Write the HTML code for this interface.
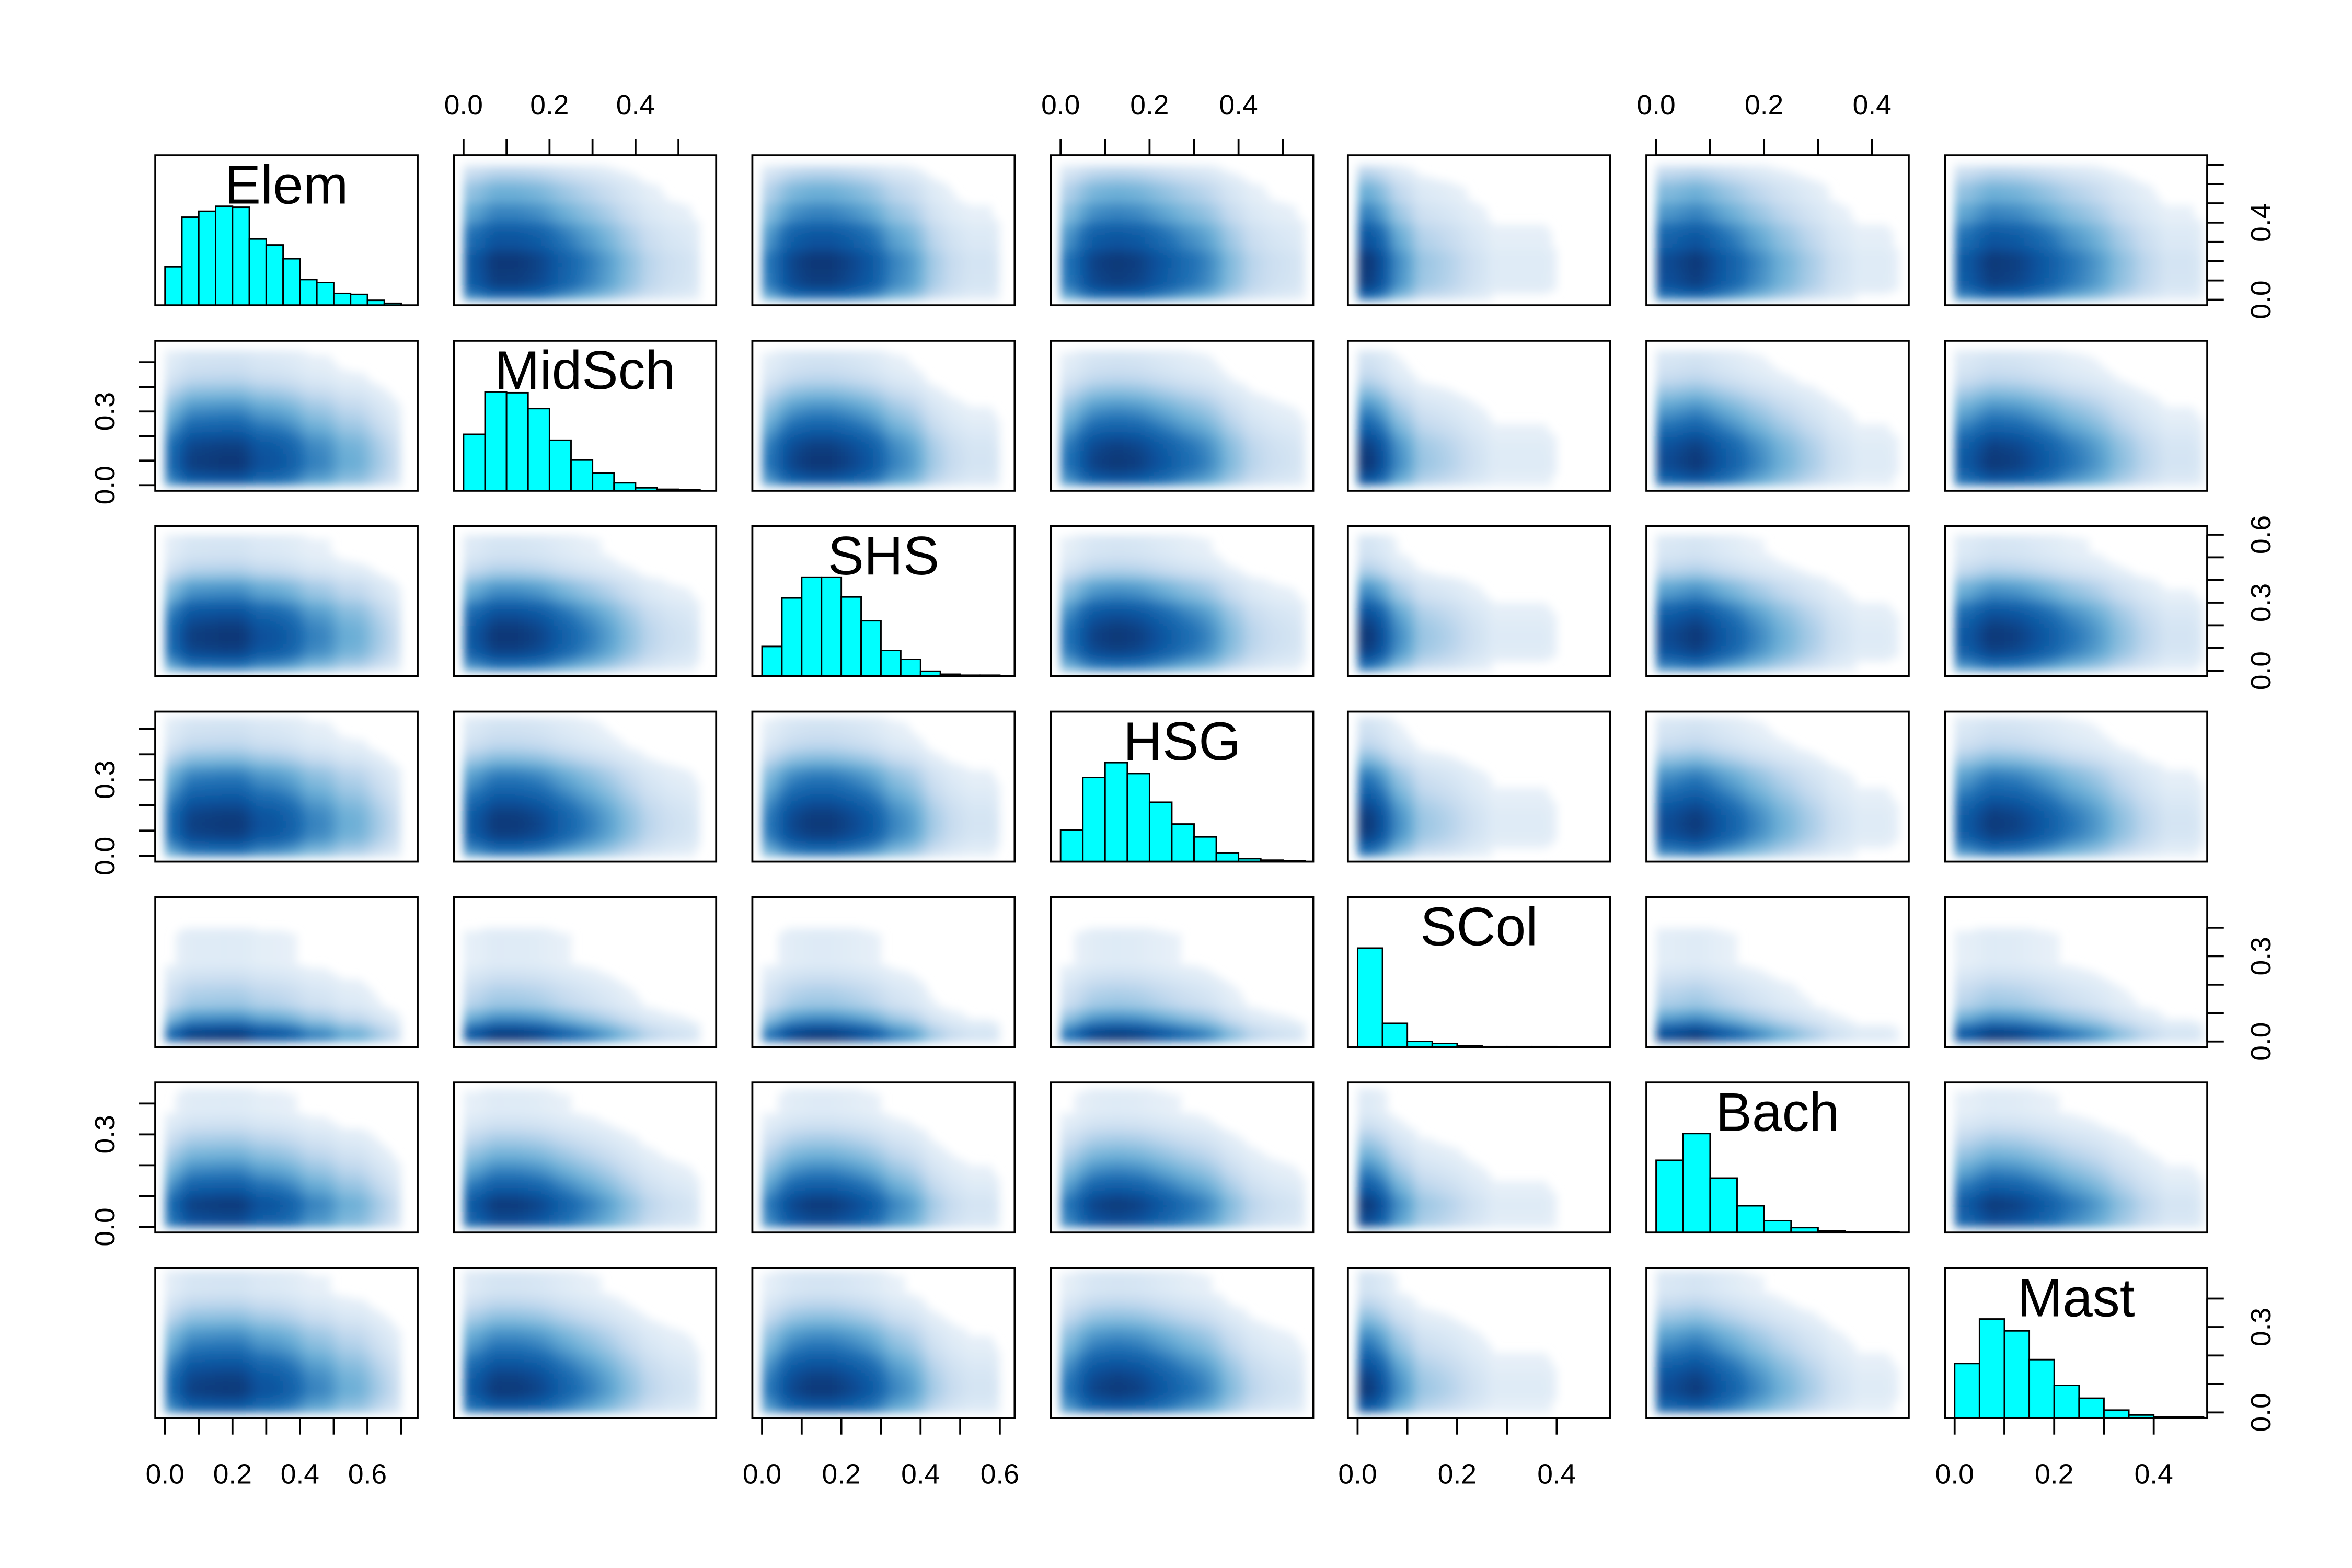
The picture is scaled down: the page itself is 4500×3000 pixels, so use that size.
<!DOCTYPE html>
<html><head><meta charset="utf-8"><style>
html,body{margin:0;padding:0;background:#fff;}
svg{display:block;font-family:"Liberation Sans",Arial,sans-serif;}
</style></head><body>
<svg id="chart" width="4500" height="3000" viewBox="0 0 1560 1040" xmlns="http://www.w3.org/2000/svg">
<defs><filter id="blur" x="-10%" y="-10%" width="120%" height="120%"><feGaussianBlur stdDeviation="3"/></filter></defs>
<rect width="1560" height="1040" fill="#fff"/>
</svg>
<script>
// ---- data ----
const varNames = ["Elem","MidSch","SHS","HSG","SCol","Bach","Mast"];
const varMax = [0.72, 0.565, 0.613, 0.546, 0.488, 0.45, 0.488];
const binWidth = 0.05;
const histElem = [0.39,0.89,0.95,1,0.99,0.67,0.61,0.47,0.26,0.23,0.12,0.11,0.05,0.02];
const histMidSch = [0.57,1,0.99,0.83,0.51,0.31,0.18,0.08,0.03,0.015,0.01];
const histSHS = [0.30,0.79,1,1,0.80,0.56,0.26,0.17,0.05,0.02,0.01,0.01];
const histHSG = [0.32,0.85,1,0.89,0.60,0.38,0.25,0.09,0.03,0.015,0.01];
const histSCol = [1,0.24,0.057,0.036,0.015,0.005,0.005,0.005];
const histBach = [0.73,1,0.55,0.27,0.12,0.05,0.015,0.005,0.005];
const histMast = [0.55,1,0.88,0.59,0.33,0.20,0.08,0.03,0.01,0.01];
const hists = [histElem,histMidSch,histSHS,histHSG,histSCol,histBach,histMast];
const xLabels = [[0,0.2,0.4,0.6],[0,0.2,0.4],[0,0.2,0.4,0.6],[0,0.2,0.4],[0,0.2,0.4],[0,0.2,0.4],[0,0.2,0.4]];
const yLabels = [[0,0.4],[0,0.3],[0,0.3,0.6],[0,0.3],[0,0.3],[0,0.3],[0,0.3]];

// ---- layout ----
const NS="http://www.w3.org/2000/svg";
const svg=document.getElementById('chart');
const colX=[103,301,499,697,894,1092,1290], PW=174;
const rowY=[103,226,349,472,595,718,841], PH=99.5;
const SUB=5;
function mk(tag,attrs,parent){const e=document.createElementNS(NS,tag);for(const k in attrs)e.setAttribute(k,attrs[k]);(parent||svg).appendChild(e);return e;}
function lim(i){return [-0.04*varMax[i], 1.04*varMax[i]];}
function sx(i,c,v){const l=lim(i);return colX[c]+(v-l[0])/(l[1]-l[0])*PW;}
function sy(i,r,v){const l=lim(i);return rowY[r]+PH-(v-l[0])/(l[1]-l[0])*PH;}
function dens(h,v){const p=v/binWidth-0.5;const i=Math.floor(p),f=p-i;
  if(i<0)return h[0]; const a=h[i]||0, b=h[i+1]||0; return a+(b-a)*f;}
const stops=[[255,255,255],[198,219,239],[107,174,214],[33,113,181],[8,81,156],[8,48,107]];
function col(t){t=Math.max(0,Math.min(1,t))*(stops.length-1);const i=Math.min(stops.length-2,Math.floor(t)),f=t-i;
  const a=stops[i],b=stops[i+1];return 'rgb('+a.map((v,k)=>Math.round(v+(b[k]-v)*f)).join(',')+')';}

for(let r=0;r<7;r++)for(let c=0;c<7;c++){
  const g=mk('g',{});
  
  
  const cp=mk('clipPath',{id:'cp'+r+'_'+c},g);mk('rect',{x:colX[c],y:rowY[r],width:PW,height:PH},cp);
  if(r===c){
    const h=hists[r];
    const maxH=PH*(1/1.5)*0.99;
    h.forEach((v,b)=>{const x0=sx(c,c,b*binWidth),x1=sx(c,c,(b+1)*binWidth);
      const bar=mk('rect',{x:x0,y:rowY[r]+PH-v*maxH,width:x1-x0,height:v*maxH,fill:'#00ffff',stroke:'#000','stroke-width':1},g);
      
      });
    const t=mk('text',{x:colX[c]+PW/2,y:rowY[r]+32,'text-anchor':'middle','font-size':36},g);t.textContent=varNames[r];
    
    
  } else {
    const pg=mk('g',{'clip-path':'url(#cp'+r+'_'+c+')'},g);
    const inner=mk('g',{filter:'url(#blur)'},pg);
    const hx=hists[c], hy=hists[r], w=binWidth/SUB;
    for(let a=0;a<hx.length*SUB;a++)for(let b=0;b<hy.length*SUB;b++){
      const d=dens(hx,(a+0.5)*w)*dens(hy,(b+0.5)*w);
      const t=Math.pow(d,0.4)*0.95;
      if(t<0.08)continue;
      const x0=sx(c,c,a*w),x1=sx(c,c,(a+1)*w),y0=sy(r,r,(b+1)*w),y1=sy(r,r,b*w);
      const cell=mk('rect',{x:x0,y:y0,width:x1-x0+0.3,height:y1-y0+0.3,fill:col(t)},inner);
      
      
    }
  }
  const fr=mk('rect',{x:colX[c],y:rowY[r],width:PW,height:PH,fill:'none',stroke:'#000','stroke-width':1.3},g);
  
  
}
// axes
function ticksFor(i){const t=[];for(let v=0;v<=varMax[i]+1e-9;v+=0.1)t.push(Math.round(v*10)/10);return t;}
for(let c=0;c<7;c++){
  const top=(c%2===1);const ax=mk('g',{});
  
  
  const y0=top?rowY[0]:rowY[6]+PH, d=top?-11:11;
  const tk=ticksFor(c);
  mk('line',{x1:sx(c,c,tk[0]),x2:sx(c,c,tk[tk.length-1]),y1:y0,y2:y0,stroke:'#000','stroke-width':1.3},ax);
  tk.forEach(v=>mk('line',{x1:sx(c,c,v),x2:sx(c,c,v),y1:y0,y2:y0+d,stroke:'#000','stroke-width':1.3},ax));
  xLabels[c].forEach(v=>{const t=mk('text',{x:sx(c,c,v),y:top?76:984,'text-anchor':'middle','font-size':18.5},ax);t.textContent=v.toFixed(1);
    
    });
}
for(let r=0;r<7;r++){
  const right=(r%2===0);const ax=mk('g',{});
  
  
  const x0=right?colX[6]+PW:colX[0], d=right?11:-11;
  const tk=ticksFor(r);
  mk('line',{x1:x0,x2:x0,y1:sy(r,r,tk[0]),y2:sy(r,r,tk[tk.length-1]),stroke:'#000','stroke-width':1.3},ax);
  tk.forEach(v=>mk('line',{x1:x0,x2:x0+d,y1:sy(r,r,v),y2:sy(r,r,v),stroke:'#000','stroke-width':1.3},ax));
  const lx=right?1506:76;
  yLabels[r].forEach(v=>{const yy=sy(r,r,v);const t=mk('text',{x:lx,y:yy,'text-anchor':'middle','font-size':18.5,transform:'rotate(-90 '+lx+' '+yy+')'},ax);t.textContent=v.toFixed(1);
    
    });
}
</script>
</body></html>
